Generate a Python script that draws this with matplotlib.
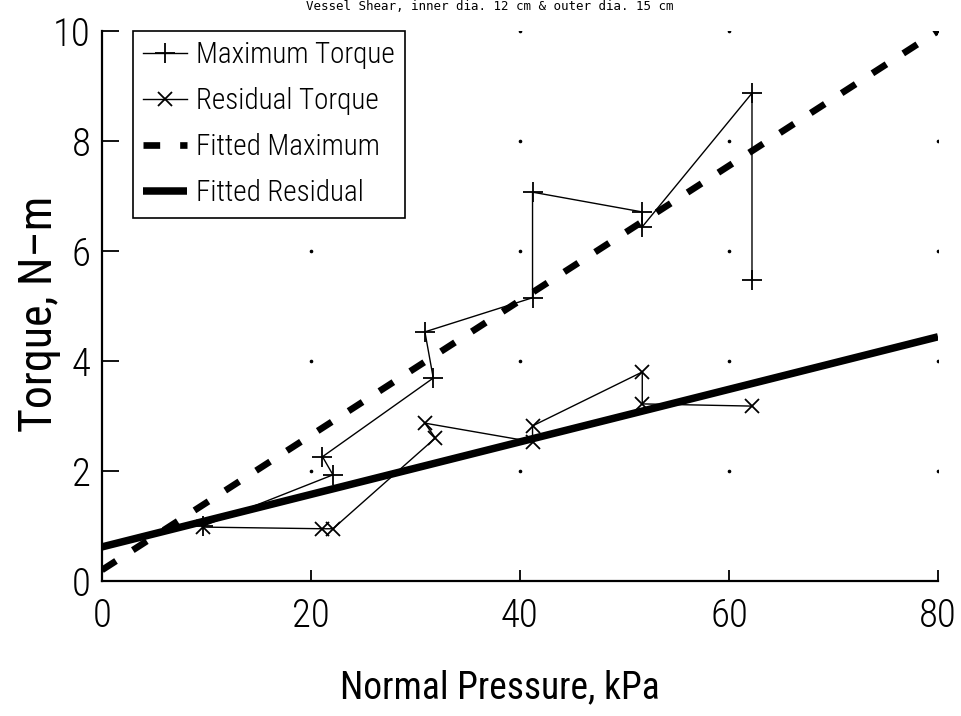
import numpy as np
import matplotlib
matplotlib.use("Agg")
import matplotlib.pyplot as plt
from matplotlib import font_manager

# Measured torque values (two readings per load step, in measurement order)
max_pressure = [9.7, 22.1, 21.1, 31.7, 30.9, 41.2, 41.2, 51.7, 51.7, 62.2, 62.2]
max_torque = [1.00, 1.93, 2.26, 3.69, 4.53, 5.15, 7.07, 6.71, 6.44, 8.87, 5.47]

res_pressure = [9.7, 21.1, 22.1, 31.9, 30.9, 41.2, 41.2, 51.7, 51.7, 62.2]
res_torque = [0.98, 0.95, 0.95, 2.60, 2.87, 2.53, 2.82, 3.80, 3.22, 3.18]

# Linear fits, given by their end points
fit_pressure = [0, 80]
fit_max = [0.20, 10.0]
fit_res = [0.62, 4.44]

x_ticks = [0, 20, 40, 60, 80]
y_ticks = [0, 2, 4, 6, 8, 10]

title_text = "Vessel Shear, inner dia. 12 cm & outer dia. 15 cm"
x_label = "Normal Pressure, kPa"
y_label = "Torque, N\u2013m"

# pick a narrow, light sans-serif for the labels
entries = font_manager.fontManager.ttflist
names = {f.name for f in entries}
stretch = "normal"
weight = "light"
if "Roboto Condensed" in names:
    FAM = ["Roboto Condensed", "DejaVu Sans"]
elif "Open Sans Condensed" in names:
    FAM = ["Open Sans Condensed", "DejaVu Sans"]
elif "Liberation Sans Narrow" in names:
    FAM = ["Liberation Sans Narrow", "DejaVu Sans"]
    weight = "normal"
elif any(f.name == "DejaVu Sans" and f.stretch == "condensed" for f in entries):
    FAM = ["DejaVu Sans"]
    stretch = "condensed"
    weight = "normal"
else:
    FAM = ["Lato", "DejaVu Sans"]
    weight = "light"
plt.rcParams["font.family"] = FAM
plt.rcParams["font.stretch"] = stretch
plt.rcParams["font.weight"] = weight

W, H = 961, 716
fig = plt.figure(figsize=(W / 100, H / 100), dpi=100)
L, R, T, B = 102, 938, 31, 581
ax = fig.add_axes([L / W, 1 - B / H, (R - L) / W, (B - T) / H])

ax.set_xlim(0, 80)
ax.set_ylim(0, 10)

# faint dots at the grid intersections
gx, gy = np.meshgrid(x_ticks[1:], y_ticks[1:])
ax.plot(gx.ravel(), gy.ravel(), ls="none", marker="o", ms=1.6,
        color="black", zorder=1)

ax.plot(max_pressure, max_torque, color="black", lw=1.0, marker="+",
        ms=14, mew=1.3, label="Maximum Torque", zorder=3)
ax.plot(res_pressure, res_torque, color="black", lw=1.0, marker="x",
        ms=10, mew=1.3, label="Residual Torque", zorder=3)
ax.plot(fit_pressure, fit_max, color="black", lw=4.8,
        dashes=(2.5, 3.0), dash_capstyle="butt",
        label="Fitted Maximum", zorder=2)
ax.plot(fit_pressure, fit_res, color="black", lw=5.4,
        solid_capstyle="butt", label="Fitted Residual", zorder=2)

for s in ("top", "right"):
    ax.spines[s].set_visible(False)
for s in ("left", "bottom"):
    ax.spines[s].set_linewidth(1.6)

ax.set_xticks(x_ticks)
ax.set_yticks(y_ticks)
ax.tick_params(axis="y", direction="in", length=12.5, width=1.3,
               labelsize=28, pad=8)
ax.tick_params(axis="x", direction="in", length=8, width=1.3,
               labelsize=28, pad=12)

ax.set_xlabel(x_label, fontsize=27, va="center")
ax.xaxis.set_label_coords(0.476, -0.195)
ax.set_ylabel(y_label, fontsize=33, va="center")
ax.yaxis.set_label_coords(-0.075, 0.485)

leg = ax.legend(loc="upper left", bbox_to_anchor=(0.037, 1.0),
                borderaxespad=0, fontsize=21, handlelength=1.5,
                handletextpad=0.3, borderpad=0.35, labelspacing=0.62,
                fancybox=False, framealpha=1, edgecolor="black",
                numpoints=1)
leg.get_frame().set_linewidth(1.2)

fig.text(490 / W, 1.0, title_text, ha="center", va="top",
         fontsize=9, family=["DejaVu Sans Mono"], weight="normal",
         stretch="normal")

fig.savefig("out.png", dpi=100, facecolor="white")
